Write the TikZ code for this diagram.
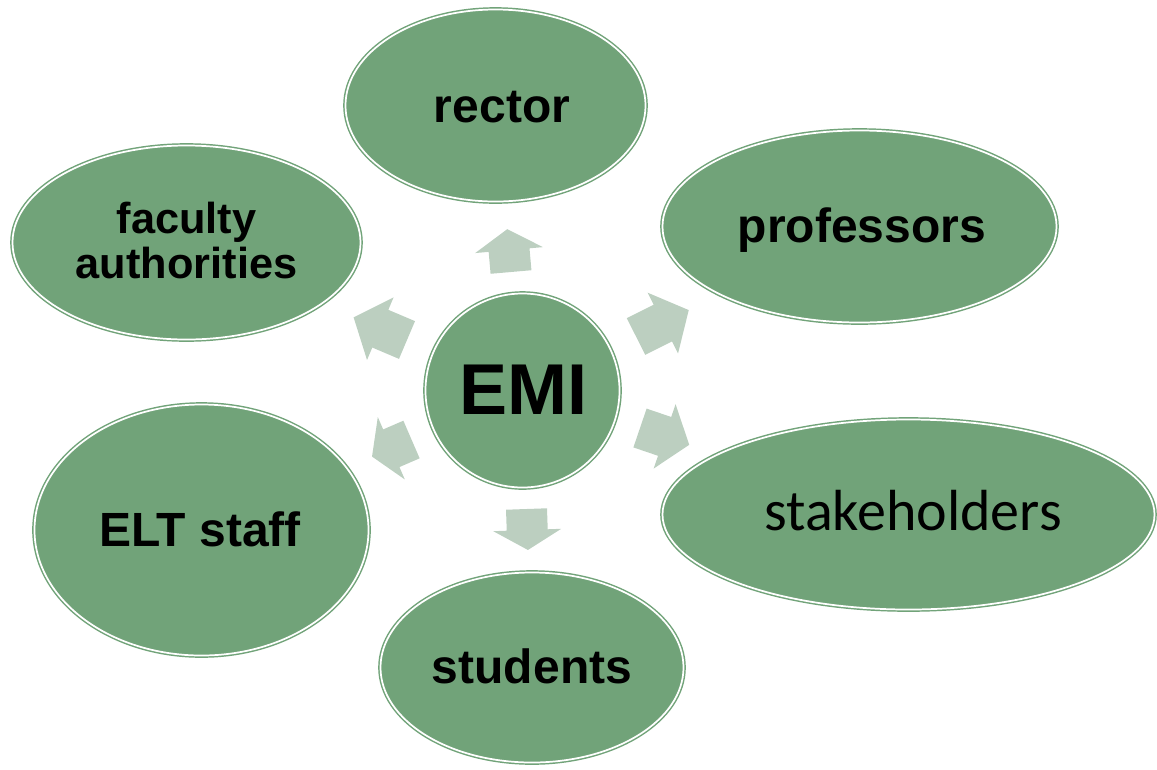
\documentclass[tikz,border=0pt]{standalone}
\usepackage{fontspec}
\setmainfont{Liberation Sans}
\newfontfamily\calib{Carlito}
\usetikzlibrary{shapes.geometric}
\definecolor{egreen}{RGB}{113,163,121}
\definecolor{earrow}{RGB}{188,207,192}
\tikzset{
  bubble/.style={ellipse, fill=egreen, draw=egreen, line width=1.1pt, double=white, double distance=1.3pt, inner sep=0pt},
  lbl/.style={anchor=base, inner sep=0pt, font=\bfseries\fontsize{36}{40}\selectfont},
  pics/blockarr/.style 2 args={code={
    \fill[earrow] (0,-20.5) -- (#1,-20.5) -- (#1,-34) -- ({#1+#2},0) -- (#1,34) -- (#1,20.5) -- (0,20.5) -- cycle;
  }}
}
\begin{document}
\begin{tikzpicture}[x=0.75pt,y=-0.75pt]
\useasboundingbox (0,0) rectangle (1157,769);
% ellipses
\node[bubble, minimum width=300pt*0.75, minimum height=192pt*0.75] (rector) at (495.5,105.5) {};
\node[bubble, minimum width=394pt*0.75, minimum height=192pt*0.75] (prof) at (859.5,226.5) {};
\node[bubble, minimum width=348pt*0.75, minimum height=194pt*0.75] (fac) at (186.5,242.5) {};
\node[bubble, minimum width=492pt*0.75, minimum height=190pt*0.75] (stake) at (908.5,514.5) {};
\node[bubble, minimum width=334pt*0.75, minimum height=251pt*0.75] (elt) at (201.5,530) {};
\node[bubble, minimum width=303pt*0.75, minimum height=190pt*0.75] (stud) at (532,667.5) {};
\node[bubble, circle, minimum size=194pt*0.75] (emi) at (522.5,390.5) {};
% labels
\node[lbl] (trector) at (502,122) {rector};
\node[lbl] (tprof) at (862,242) {professors};
\node[lbl, font=\bfseries\fontsize{32.5}{36}\selectfont] (tfac1) at (186.5,233) {faculty};
\node[lbl, font=\bfseries\fontsize{32.5}{36}\selectfont] (tfac2) at (186.5,278) {authorities};
\node[lbl, font=\calib\fontsize{43.5}{48}\selectfont] (tstake) at (913,530) {stakeholders};
\node[lbl] (telt) at (200,546) {ELT staff};
\node[lbl] (tstud) at (532,683) {students};
\node[lbl, font=\bfseries\fontsize{54}{60}\selectfont] (temi) at (523,414) {EMI};
% block arrows
\pic[rotate=95] at (511,272) {blockarr={22}{21}};
\pic[rotate=26.6] at (636,336.5) {blockarr={30}{29}};
\pic[rotate=-18.8] at (640,428) {blockarr={26}{26}};
\pic[rotate=-88] at (526.5,509) {blockarr={21}{20}};
\pic[rotate=-156.6] at (411.5,439.5) {blockarr={22}{21}};
\pic[rotate=157] at (407,340) {blockarr={29}{29}};
\end{tikzpicture}
\end{document}
